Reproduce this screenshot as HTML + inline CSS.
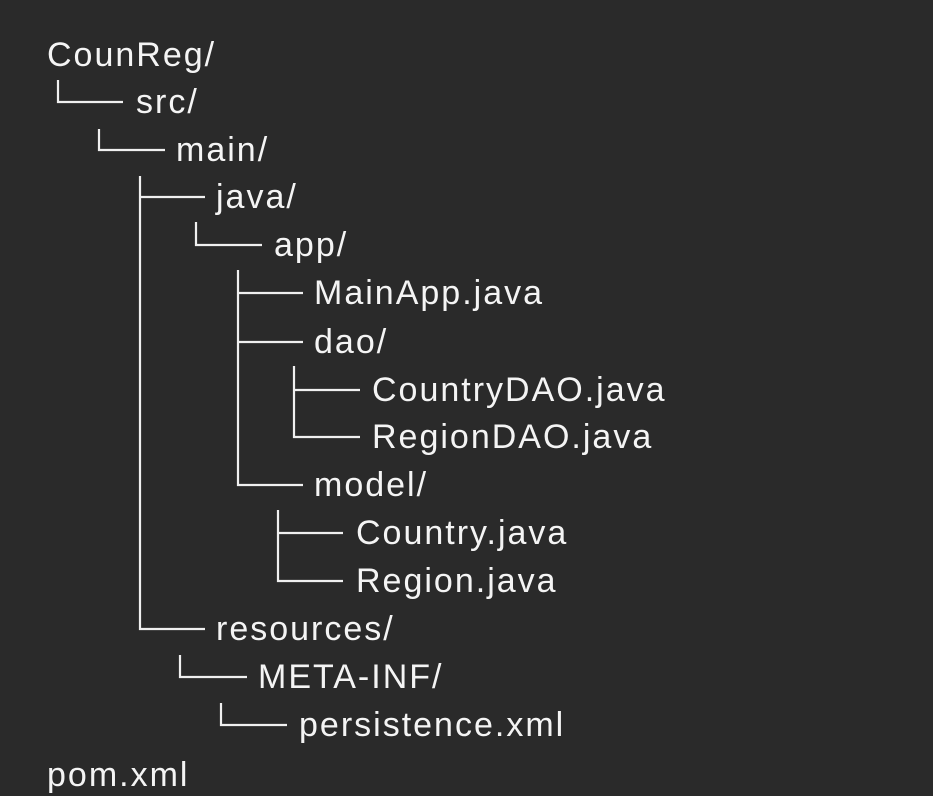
<!DOCTYPE html>
<html><head><meta charset="utf-8"><style>
html,body{margin:0;padding:0;background:#2a2a2a;}
svg{display:block}
text{font-family:"Liberation Sans",sans-serif;font-size:34px;letter-spacing:2px;fill:#f4f4f4}
</style></head><body>
<svg width="933" height="796" viewBox="0 0 933 796">
<rect width="933" height="796" fill="#2a2a2a"/>
<g stroke="#f0f0f0" stroke-width="2.2" fill="none">
<path d="M58 80V102H123"/>
<path d="M99 129V150H165"/>
<path d="M140 176V629H205M140 197H205"/>
<path d="M196 222V245H262"/>
<path d="M238 270V485H303M238 293H303M238 342H303"/>
<path d="M294 366V437H360M294 390H360"/>
<path d="M278 510V581H343M278 533H343"/>
<path d="M180 655V677H247"/>
<path d="M221 703V725H287"/>
</g>
<text x="47" y="66">CounReg/</text>
<text x="136" y="113">src/</text>
<text x="176" y="161">main/</text>
<text x="216" y="208">java/</text>
<text x="274" y="256">app/</text>
<text x="314" y="304">MainApp.java</text>
<text x="314" y="353">dao/</text>
<text x="372" y="401">CountryDAO.java</text>
<text x="372" y="448">RegionDAO.java</text>
<text x="314" y="496">model/</text>
<text x="356" y="544">Country.java</text>
<text x="356" y="592">Region.java</text>
<text x="216" y="640">resources/</text>
<text x="258" y="688">META-INF/</text>
<text x="299" y="736">persistence.xml</text>
<text x="47" y="786">pom.xml</text>
</svg>
</body></html>
